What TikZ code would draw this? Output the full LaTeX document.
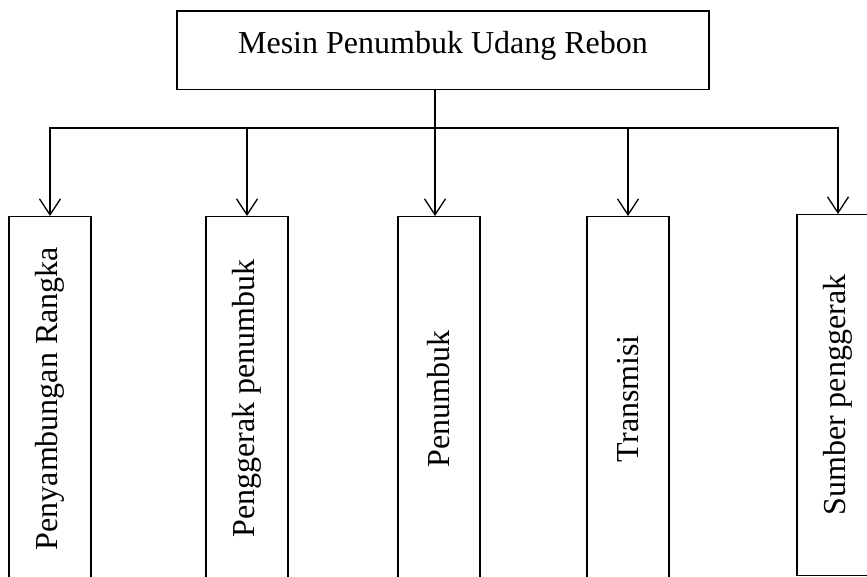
\documentclass[tikz,border=0pt]{standalone}
\usepackage{fontspec}
\setmainfont{Liberation Serif}
\usepackage{graphicx}
\usetikzlibrary{arrows.meta,calc}
\begin{document}
\begin{tikzpicture}[x=1pt,y=-1pt,
  every node/.style={font=\fontsize{32}{38}\selectfont},
  boxline/.style={draw=black,line width=1.3pt,inner sep=0pt},
  vbox/.style={boxline,minimum width=82pt,minimum height=364pt,anchor=north},
  conn/.style={line width=1.3pt},
  arr/.style={conn,-{Straight Barb[length=16pt,width=21pt,line width=1.3pt]}}]
\clip (0,0) rectangle (867,576);
\fill[white] (0,0) rectangle (867,576);
\node[boxline,minimum width=532pt,minimum height=78.5pt,text height=22pt,text depth=16pt] (top) at (443,50.2) {Mesin Penumbuk Udang Rebon};
\node[vbox] (b1) at (50,216) {\rotatebox{90}{Penyambungan Rangka}};
\node[vbox] (b2) at (247,216) {\rotatebox{90}{Penggerak penumbuk}};
\node[vbox] (b3) at (439,216) {\rotatebox{90}{Penumbuk}};
\node[vbox] (b4) at (628,216) {\rotatebox{90}{Transmisi}};
\node[vbox,minimum height=361pt] (b5) at (838,214) {\rotatebox{90}{Sumber penggerak}};
\coordinate (j) at (435,128);
\draw[conn] (top.south -| j) -- (j);
\draw[arr] (j) -| (b1.north);
\draw[arr] (j) -| (b2.north);
\draw[arr] (j) -- (j |- b3.north);
\draw[arr] (j) -| (b4.north);
\draw[arr] (j) -| (b5.north);
\end{tikzpicture}
\end{document}
